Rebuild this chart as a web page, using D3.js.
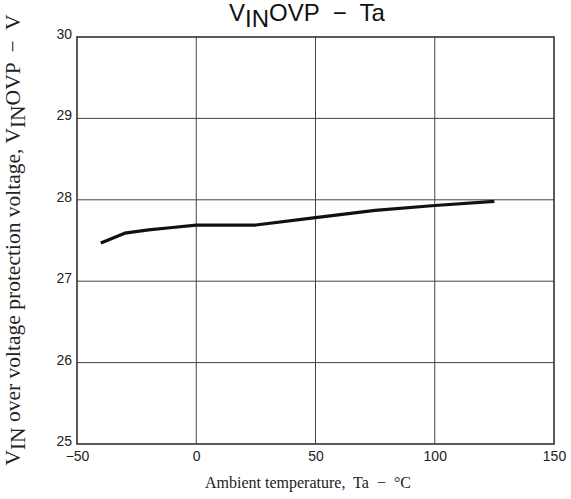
<!DOCTYPE html>
<html><head><meta charset="utf-8">
<script src="https://cdn.jsdelivr.net/npm/d3@7"></script>
<style>body{margin:0;background:#fff} text{white-space:pre}</style>
</head><body>
<svg id="c" width="571" height="499"></svg>
<script>
const temps = [-40, -30, -20, -10, 0, 25, 50, 75, 100, 125];
const vovp = [27.47, 27.59, 27.63, 27.66, 27.69, 27.69, 27.78, 27.87, 27.93, 27.98];
const xTicks = [-50, 0, 50, 100, 150];
const yTicks = [25, 26, 27, 28, 29, 30];

const svg = d3.select('#c');
const L = 77, R = 554, T = 37, B = 444;
const x = d3.scaleLinear().domain([-50, 150]).range([L, R]);
const y = d3.scaleLinear().domain([25, 30]).range([B, T]);

// grid
svg.append('g').selectAll('line').data(xTicks.slice(1, -1)).join('line')
  .attr('x1', d => x(d)).attr('x2', d => x(d)).attr('y1', T).attr('y2', B)
  .attr('stroke', '#444').attr('stroke-width', 1);
svg.append('g').selectAll('line').data(yTicks.slice(1, -1)).join('line')
  .attr('y1', d => y(d)).attr('y2', d => y(d)).attr('x1', L).attr('x2', R)
  .attr('stroke', '#444').attr('stroke-width', 1);

// frame
svg.append('rect').attr('x', L).attr('y', T).attr('width', R - L).attr('height', B - T)
  .attr('fill', 'none').attr('stroke', '#333').attr('stroke-width', 1.6);

// axes labels
const xAxis = d3.axisBottom(x).tickValues(xTicks).tickSize(0).tickPadding(7)
  .tickFormat(d => d < 0 ? '\u2212' + Math.abs(d) : String(d));
const gx = svg.append('g').attr('transform', `translate(0,${B})`).call(xAxis);
gx.select('.domain').remove();
gx.selectAll('text').attr('font-family', 'Liberation Sans, Arial, sans-serif').attr('font-size', 14).attr('fill', '#222');

const yAxis = d3.axisLeft(y).tickValues(yTicks).tickSize(0).tickPadding(5).tickFormat(d3.format('d'));
const gy = svg.append('g').attr('transform', `translate(${L},0)`).call(yAxis);
gy.select('.domain').remove();
gy.selectAll('text').attr('font-family', 'Liberation Sans, Arial, sans-serif').attr('font-size', 14).attr('fill', '#222').attr('dy', '0.1em');

// data line
const line = d3.line().x((d, i) => x(temps[i])).y(d => y(d));
svg.append('path').datum(vovp).attr('d', line)
  .attr('fill', 'none').attr('stroke', '#111').attr('stroke-width', 3.2)
  .attr('stroke-linejoin', 'round');

// title
const title = svg.append('text').attr('x', 307).attr('y', 21).attr('text-anchor', 'middle')
  .attr('font-family', 'Liberation Sans, Arial, sans-serif').attr('font-size', 24).attr('fill', '#111');
title.append('tspan').text('V');
title.append('tspan').attr('dy', 6).text('IN');
title.append('tspan').attr('dy', -6).text('OVP  \u2212  Ta');

// x label
svg.append('text').attr('x', 308).attr('y', 488).attr('text-anchor', 'middle')
  .attr('font-family', 'Liberation Serif, Times New Roman, serif').attr('font-size', 16).attr('fill', '#222')
  .text('Ambient temperature,  Ta  \u2212  \u00B0C');

// y label
const yl = svg.append('text').attr('transform', 'translate(20,240) rotate(-90)').attr('text-anchor', 'middle')
  .attr('font-family', 'Liberation Serif, Times New Roman, serif').attr('font-size', 21.5).attr('fill', '#222');
yl.append('tspan').text('V');
yl.append('tspan').attr('dy', 5).text('IN');
yl.append('tspan').attr('dy', -5).text(' over voltage protection voltage, V');
yl.append('tspan').attr('dy', 5).text('IN');
yl.append('tspan').attr('dy', -5).text('OVP  \u2212  V');
</script>
</body></html>
